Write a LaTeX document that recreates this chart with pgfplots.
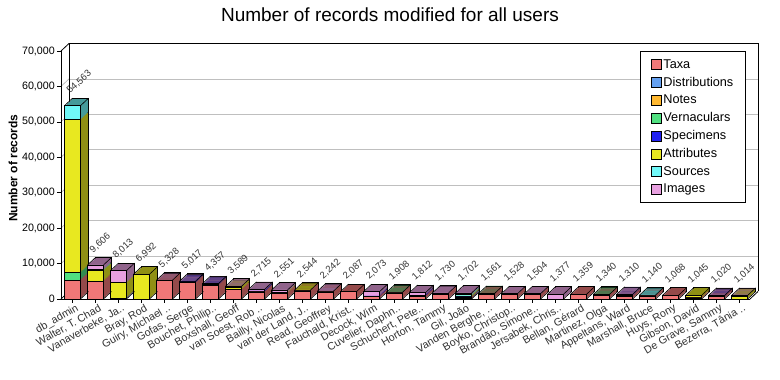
\documentclass[border=0pt]{standalone}
\usepackage{pgfplots}
\pgfplotsset{compat=1.18}
\usepackage{pgfplotstable}
\usepackage{fontspec}
\setmainfont{Liberation Sans}

\definecolor{cTaxa}{RGB}{240,120,120}
\definecolor{cDist}{RGB}{100,160,240}
\definecolor{cNotes}{RGB}{255,184,48}
\definecolor{cVern}{RGB}{80,224,128}
\definecolor{cSpec}{RGB}{32,32,240}
\definecolor{cAttr}{RGB}{232,232,32}
\definecolor{cSrc}{RGB}{112,248,248}
\definecolor{cImg}{RGB}{232,160,224}

\pgfplotstableread{
x Taxa Dist Notes Vern Spec Attr Src Img total label
0 5300 0 0 2150 0 43150 3963 0 54563 54,563
1 5000 0 0 0 0 3050 250 1306 9606 9,606
2 0 0 0 0 200 4400 0 3413 8013 8,013
3 0 0 0 0 0 6992 0 0 6992 6,992
4 5200 0 0 0 0 0 0 128 5328 5,328
5 4600 0 0 0 200 0 0 217 5017 5,017
6 3900 0 0 0 250 0 0 207 4357 4,357
7 2600 0 0 0 0 700 0 289 3589 3,589
8 2000 0 0 0 300 0 0 415 2715 2,715
9 1600 0 0 0 0 250 0 701 2551 2,551
10 2300 0 0 0 0 244 0 0 2544 2,544
11 2000 0 0 0 0 0 0 242 2242 2,242
12 2087 0 0 0 0 0 0 0 2087 2,087
13 700 0 0 0 200 0 0 1173 2073 2,073
14 1700 0 0 208 0 0 0 0 1908 1,908
15 800 0 0 0 300 0 0 712 1812 1,812
16 1400 0 0 0 0 0 0 330 1730 1,730
17 250 100 150 0 100 300 300 502 1702 1,702
18 1400 0 0 161 0 0 0 0 1561 1,561
19 1200 0 0 0 0 0 0 328 1528 1,528
20 1200 0 0 0 0 0 0 304 1504 1,504
21 0 0 0 0 0 0 0 1377 1377 1,377
22 1359 0 0 0 0 0 0 0 1359 1,359
23 1100 0 0 240 0 0 0 0 1340 1,340
24 800 0 0 0 200 0 0 310 1310 1,310
25 900 0 0 0 0 0 240 0 1140 1,140
26 1068 0 0 0 0 0 0 0 1068 1,068
27 300 0 150 0 0 595 0 0 1045 1,045
28 700 0 0 0 100 0 0 220 1020 1,020
29 0 0 0 0 0 800 0 214 1014 1,014
}\datatable

\pgfdeclareplotmark{prismtop}{%
  \pgfpathmoveto{\pgfqpoint{-8pt}{0pt}}\pgfpathlineto{\pgfqpoint{0pt}{7.5pt}}%
  \pgfpathmoveto{\pgfqpoint{8pt}{0pt}}\pgfpathlineto{\pgfqpoint{16pt}{7.5pt}}%
  \pgfusepathqstroke}
\pgfdeclareplotmark{prismbot}{%
  \pgfpathmoveto{\pgfqpoint{8pt}{0pt}}\pgfpathlineto{\pgfqpoint{16pt}{7.5pt}}%
  \pgfusepathqstroke}

\pgfplotsset{
  base/.style={scale only axis, width=689pt, height=248pt,
    xmin=-0.5, xmax=29.45, ymin=0, ymax=70000, anchor=south west},
}

\newcommand\depthaxis[3]{%
\begin{axis}[base, at={(#1,#2)}, hide axis, ybar stacked, bar width=16pt,
  every axis plot/.append style={draw=#3, line width=0.6pt}]
\addplot[fill=cTaxa!62!black] table[x=x,y=Taxa]{\datatable};
\addplot[fill=cDist!62!black] table[x=x,y=Dist]{\datatable};
\addplot[fill=cNotes!62!black] table[x=x,y=Notes]{\datatable};
\addplot[fill=cVern!62!black] table[x=x,y=Vern]{\datatable};
\addplot[fill=cSpec!62!black] table[x=x,y=Spec]{\datatable};
\addplot[fill=cAttr!62!black] table[x=x,y=Attr]{\datatable};
\addplot[fill=cSrc!62!black] table[x=x,y=Src]{\datatable};
\addplot[fill=cImg!62!black] table[x=x,y=Img]{\datatable};
\end{axis}}

\begin{document}
\begin{tikzpicture}[x=1pt,y=1pt]
\useasboundingbox (0,0) rectangle (780,380);
\fill[white] (0,0) rectangle (780,380);

% title and y label
\node[font=\fontsize{19}{22}\selectfont] at (390,365) {Number of records modified for all users};
\node[rotate=90, font=\bfseries\fontsize{12}{14}\selectfont] at (13,212) {Number of records};

% back wall: grid and frame
\foreach \k in {1,...,6} {
  \draw[black!25, line width=0.8pt] (69,{88.5+\k*35.4286}) -- (758,{88.5+\k*35.4286});
  \draw[black!30, line width=0.6pt] (61,{81+\k*35.4286}) -- (69,{88.5+\k*35.4286});
}
\draw[black, line width=0.8pt] (69,88.5) -- (69,336.5) -- (758,336.5) -- (758,88.5);
\draw[black, line width=0.8pt] (61,329) -- (69,336.5);
\draw[black, line width=0.8pt] (61,81) -- (69,88.5);
\draw[black, line width=0.8pt] (750,81) -- (758,88.5);

% depth of the bars
\depthaxis{69pt}{88.5pt}{black}
\depthaxis{68pt}{87.5625pt}{none}
\depthaxis{67pt}{86.625pt}{none}
\depthaxis{66pt}{85.6875pt}{none}
\depthaxis{65pt}{84.75pt}{none}
\depthaxis{64pt}{83.8125pt}{none}
\depthaxis{63pt}{82.875pt}{none}
\depthaxis{62pt}{81.9375pt}{none}

% front faces
\begin{axis}[base, at={(61pt,81pt)}, ybar stacked, bar width=16pt,
  axis x line*=bottom, axis y line*=left,
  axis line style={black, line width=0.8pt, -},
  scaled y ticks=false,
  tick align=outside, major tick length=4pt, tick style={black, line width=0.6pt},
  xtick={0,...,29},
  xticklabels={{db\_admin},{Walter, T. Chad},{Vanaverbeke, Ja..},{Bray, Rod},{Guiry, Michael ..},{Gofas, Serge},{Bouchet, Philip..},{Boxshall, Geoff},{van Soest, Rob ..},{Bailly, Nicolas},{van der Land, J..},{Read, Geoffrey},{Fauchald, Krist..},{Decock, Wim},{Cuvelier, Daphn..},{Schuchert, Pete..},{Horton, Tammy},{Gil, João},{Vanden Berghe, ..},{Boyko, Christop..},{Brandão, Simone..},{Jersabek, Chris..},{Bellan, Gérard},{Martinez, Olga},{Appeltans, Ward},{Marshall, Bruce},{Huys, Rony},{Gibson, David},{De Grave, Sammy},{Bezerra, Tânia ..}},
  xticklabel style={xshift=3pt, yshift=1pt, rotate=30, anchor=north east, inner sep=1pt, text=black!80, font=\fontsize{10.7}{12}\selectfont},
  ytick={0,10000,20000,30000,40000,50000,60000,70000},
  yticklabels={0,{10,000},{20,000},{30,000},{40,000},{50,000},{60,000},{70,000}},
  yticklabel style={font=\fontsize{10.7}{12}\selectfont, inner sep=2pt},
  every axis plot/.append style={draw=black, line width=0.6pt,
    legend image code/.code={\draw[##1, draw=black, line width=0.6pt] (0pt,-5pt) rectangle (10pt,5pt);}},
  legend style={at={(0.8403,1.0)}, anchor=north west, draw=black, fill=white, line width=0.8pt,
    font=\fontsize{12.7}{14}\selectfont, inner xsep=10.5pt, inner ysep=6pt, row sep=3.3pt,
    /tikz/every even column/.append style={column sep=5pt}},
  legend cell align=left]
\addplot[fill=cTaxa] table[x=x,y=Taxa]{\datatable};
\addplot[fill=cDist] table[x=x,y=Dist]{\datatable};
\addplot[fill=cNotes] table[x=x,y=Notes]{\datatable};
\addplot[fill=cVern] table[x=x,y=Vern]{\datatable};
\addplot[fill=cSpec] table[x=x,y=Spec]{\datatable};
\addplot[fill=cAttr] table[x=x,y=Attr]{\datatable};
\addplot[fill=cSrc] table[x=x,y=Src]{\datatable};
\addplot[fill=cImg] table[x=x,y=Img]{\datatable};
\legend{Taxa,Distributions,Notes,Vernaculars,Specimens,Attributes,Sources,Images}
\end{axis}

% edges and value labels
\begin{axis}[base, at={(61pt,81pt)}, hide axis, clip=false]
\addplot[only marks, mark=prismtop, black, mark options={line width=0.6pt},
  nodes near coords, point meta=explicit symbolic,
  every node near coord/.style={xshift=-1.5pt, yshift=10.5pt, rotate=42, anchor=south west, inner sep=0pt,
    font=\fontsize{9.5}{11}\selectfont, text=black!80}]
  table[x=x, y=total, meta=label]{\datatable};
\addplot[only marks, mark=prismbot, black, mark options={line width=0.6pt}]
  table[x=x, y expr=0]{\datatable};
\end{axis}
\end{tikzpicture}
\end{document}
